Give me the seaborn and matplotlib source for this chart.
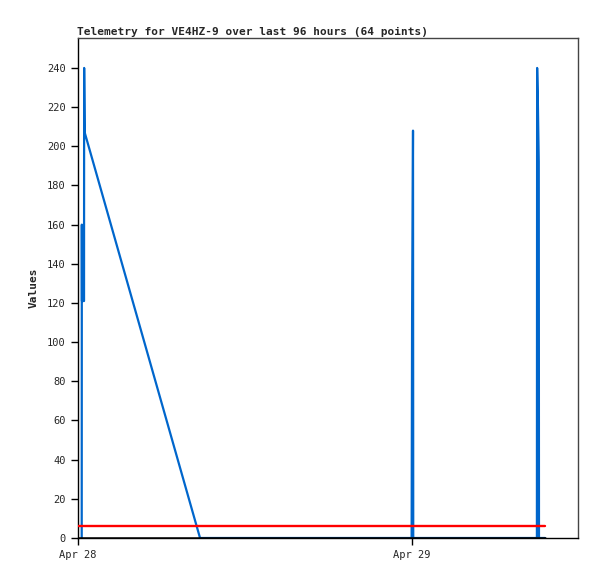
import matplotlib
matplotlib.use("Agg")
import matplotlib.pyplot as plt
import matplotlib.dates as mdates
import seaborn as sns
import pandas as pd

# Minutes after Apr 28 00:00 and telemetry values (blue series)
blue_minutes = [16, 16.5, 17, 26, 26.5, 29, 526, 700, 900, 1100, 1300, 1438, 1440, 1444, 1445,
                1600, 1800, 1978, 1979, 1982, 1986, 1987, 2013]
blue_values = [0, 160, 121, 121, 240, 207, 0, 0, 0, 0, 0, 0, 112, 208, 0,
               0, 0, 0, 240, 224, 192, 0, 0]
# Baseline (black) and threshold (red) series
base_minutes = [0, 2013]
base_values = [0, 0]
thresh_minutes = [0, 2013]
thresh_values = [6, 6]
title = "Telemetry for VE4HZ-9 over last 96 hours (64 points)"
y_ticks = list(range(0, 241, 20))

start = pd.Timestamp("2024-04-28 00:00")
def to_df(mins, vals):
    return pd.DataFrame({"time": start + pd.to_timedelta(mins, unit="m"), "value": vals})

sns.set_style("white")
plt.rcParams["font.family"] = ["DejaVu Sans Mono"]

fig = plt.figure(figsize=(5.97, 5.79), dpi=100)
ax = fig.add_axes([78/597, 1-538/579, (577.5-78)/597, (538-38)/579])

sns.lineplot(data=to_df(blue_minutes, blue_values), x="time", y="value", ax=ax,
             color="#0066CC", linewidth=1.6, sort=False, estimator=None, zorder=2)
sns.lineplot(data=to_df(thresh_minutes, thresh_values), x="time", y="value", ax=ax,
             color="#FF0000", linewidth=1.7, sort=False, estimator=None, zorder=3)
sns.lineplot(data=to_df(base_minutes, base_values), x="time", y="value", ax=ax,
             color="black", linewidth=1.8, sort=False, estimator=None, zorder=4)

ax.set_xlim(start, start + pd.Timedelta(minutes=2153))
ax.set_ylim(0, 255.3)
ax.set_yticks(y_ticks)
ax.xaxis.set_major_locator(mdates.DayLocator())
ax.xaxis.set_major_formatter(mdates.DateFormatter("%b %d"))

ax.tick_params(axis="both", direction="out", length=5, width=1, color="black",
               labelsize=7.5, pad=4, left=True, bottom=True)
for s in ["left", "bottom"]:
    ax.spines[s].set_color("black")
    ax.spines[s].set_linewidth(1)
for s in ["top", "right"]:
    ax.spines[s].set_color("#444444")
    ax.spines[s].set_linewidth(1)

ax.set_xlabel("")
ax.set_ylabel("Values", fontsize=8, fontweight="bold", labelpad=6)
ax.set_title(title, loc="left", fontsize=8, fontweight="bold", pad=2.5, x=-0.003)

fig.savefig("out.png", dpi=100)
